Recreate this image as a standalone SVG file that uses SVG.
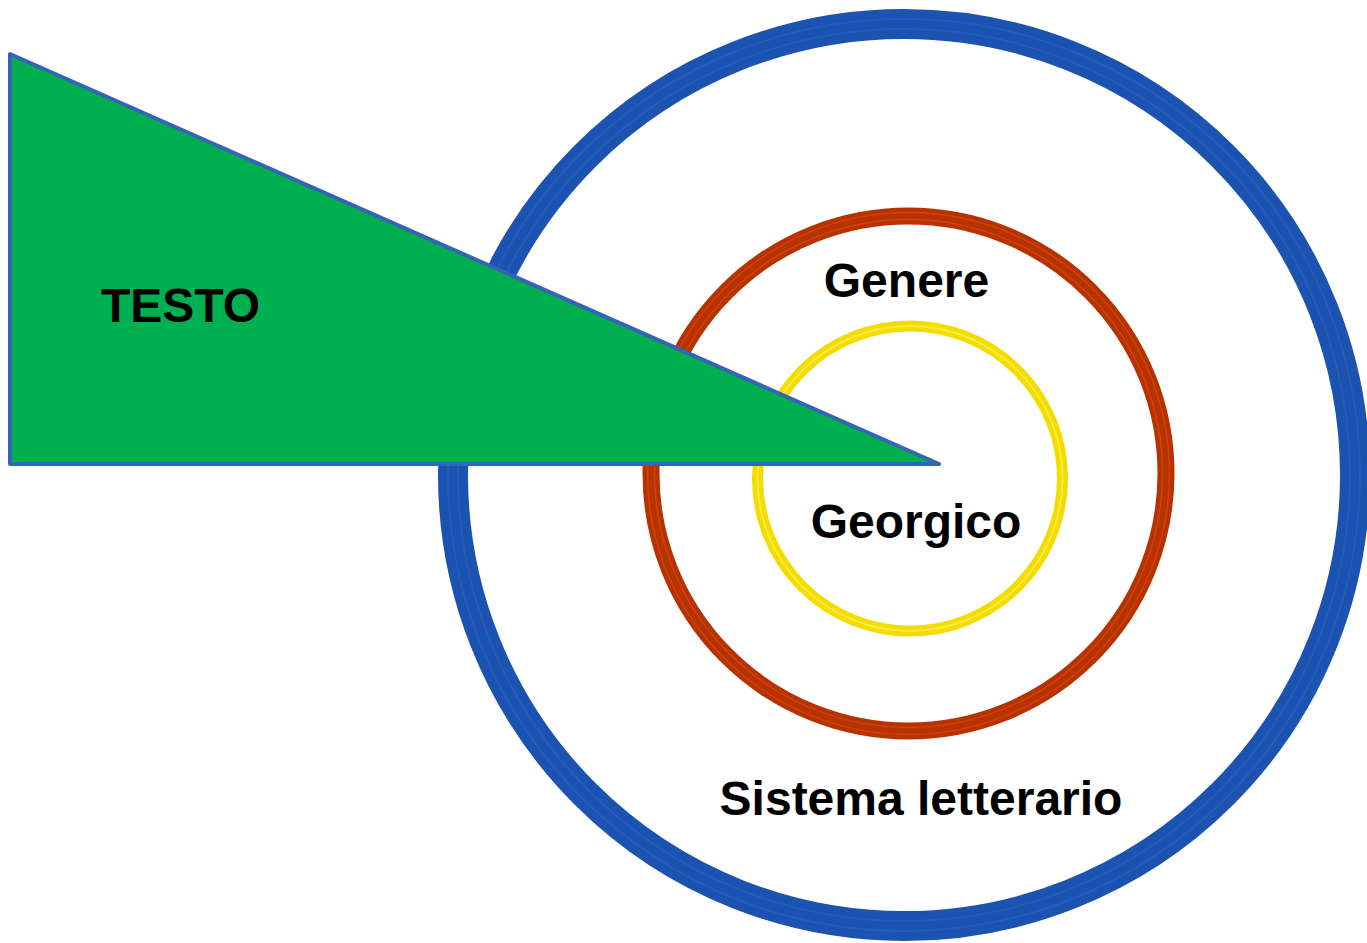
<svg xmlns="http://www.w3.org/2000/svg" width="1367" height="943" viewBox="0 0 1367 943">
<style>
  .lbl { font-family: "Liberation Sans", Arial, sans-serif; font-weight: bold; font-size: 48px; fill: #000; text-anchor: middle; }
  .ring { fill: none; }
</style>
<rect width="1367" height="943" fill="#ffffff"/>
<g id="ring-sistema">
  <circle class="ring" cx="904" cy="475" r="451" stroke="#1c52b0" stroke-width="30"/>
  <circle class="ring" cx="904" cy="475" r="446" stroke="#2a62c4" stroke-width="2" opacity="0.6"/>
  <circle class="ring" cx="904" cy="475" r="456" stroke="#2a62c4" stroke-width="2" opacity="0.6"/>
</g>
<g id="ring-genere">
  <circle class="ring" cx="908.5" cy="473.5" r="257.5" stroke="#b83200" stroke-width="17"/>
  <circle class="ring" cx="908.5" cy="473.5" r="254" stroke="#d44a10" stroke-width="1.5" opacity="0.7"/>
  <circle class="ring" cx="908.5" cy="473.5" r="261" stroke="#d44a10" stroke-width="1.5" opacity="0.7"/>
</g>
<g id="ring-georgico">
  <circle class="ring" cx="910" cy="478.5" r="152.5" stroke="#f5dc00" stroke-width="11"/>
  <circle class="ring" cx="910" cy="478.5" r="152.5" stroke="#fff04a" stroke-width="2" opacity="0.8"/>
</g>
<g id="testo">
  <polygon points="10,54 939,464 10,464" fill="#00b050" stroke="#3563b5" stroke-width="4" stroke-linejoin="round"/>
  <text class="lbl" x="180.5" y="322">TESTO</text>
</g>
<g id="labels">
  <text class="lbl" x="906.5" y="297">Genere</text>
  <text class="lbl" x="916" y="538">Georgico</text>
  <text class="lbl" x="921" y="815">Sistema letterario</text>
</g>
</svg>
